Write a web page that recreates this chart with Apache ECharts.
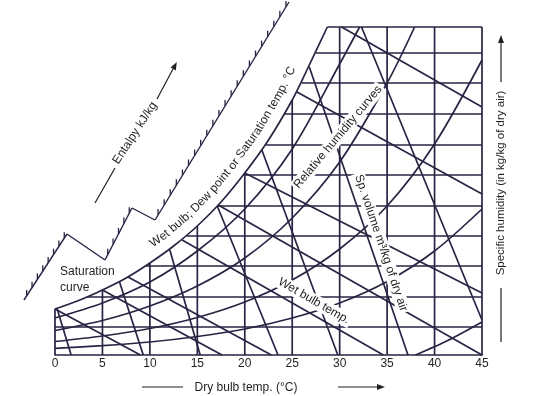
<!DOCTYPE html>
<html><head><meta charset="utf-8">
<script src="https://cdn.jsdelivr.net/npm/echarts@6/dist/echarts.min.js"></script>
<style>html,body{margin:0;padding:0;background:#fff}#c{width:550px;height:396px}</style>
</head><body><div id="c"></div>
<script>
// ---- data (x: dry bulb °C, y: specific humidity, chart units) ----
const dryBulbTicks = [0, 5, 10, 15, 20, 25, 30, 35, 40, 45];
const saturationX = [0, 2.5, 5, 7.5, 10, 12.5, 15, 17.5, 20, 22.5, 25, 26.5, 28.7];
const saturationY = [4.6, 5.45, 6.5, 7.7, 9.2, 10.9, 12.9, 15.3, 18.2, 21.5, 25.5, 28.4, 32.8];
const dryBulbLineX = [0, 5, 10, 15, 20, 25, 30, 35, 40, 45];
const dryBulbLineTop = [4.6, 6.5, 9.2, 12.9, 18.2, 25.5, 32.8, 32.8, 32.8, 32.8];
const humidityY = [2.8, 5.8, 8.9, 11.9, 14.9, 18.0, 21.0, 24.1, 27.2, 30.2, 32.8];
const humidityStartX = [0, 3.4, 9.6, 13.9, 17.2, 19.9, 22.2, 24.2, 26.0, 27.5, 28.7];
const rh80X = [0, 5, 10, 15, 20, 25, 30, 32.1];
const rh80Y = [3.7, 5.2, 7.3, 10.4, 14.6, 20.6, 29.1, 32.8];
const rh53X = [0, 5, 10, 15, 20, 25, 30, 35, 37.9];
const rh53Y = [2.45, 3.45, 4.9, 6.9, 9.7, 13.7, 19.3, 27.2, 32.8];
const rh29X = [0, 5, 10, 15, 20, 25, 30, 35, 40, 45];
const rh29Y = [1.35, 1.9, 2.65, 3.75, 5.3, 7.5, 10.6, 14.9, 21.1, 29.5];
const rh14X = [0, 5, 10, 15, 20, 25, 30, 35, 40, 45];
const rh14Y = [0.66, 0.93, 1.3, 1.85, 2.6, 3.7, 5.2, 7.35, 10.4, 14.6];
const rhLowX = [38, 41.5, 45];
const rhLowY = [0, 1.5, 3.3];
const wetBulbStartX = [0, 5, 7.7, 13.4, 17.2, 20, 25.5, 30.2];
const wetBulbStartY = [4.6, 6.5, 7.8, 11.5, 15.0, 18.2, 26.3, 32.8];
const wetBulbEndX = [9.0, 17.6, 22.8, 34.6, 45, 45, 45, 45];
const wetBulbEndY = [0, 0, 0, 0, 0, 6.2, 16.1, 24.8];
const spVolStartX = [0.2, 6.8, 12.1, 17.1, 21.8, 26.8, 32.3];
const spVolStartY = [4.7, 7.3, 10.5, 14.9, 20.5, 28.8, 32.8];
const spVolEndX = [1.7, 9.3, 15.3, 23.5, 29.8, 37.2, 45];
const spVolEndY = [0, 0, 0, 0, 0, 0, 3.5];
const enthalpyX = [-3.27, 1.26, 5.27, 8.11, 10.54, 24.66];
const enthalpyY = [5.5, 12.1, 9.5, 14.7, 13.5, 35.3];
const enthalpyTickCount = [8, 0, 5, 0, 22];

// ---- styling ----
const C = '#2a2343';
const TXT = '#231f20';
const LW = 1.7;
const FONT = '"Liberation Sans", Arial, sans-serif';

function zip(xs, ys) { return xs.map((x, i) => [x, ys[i]]); }
function ln(points, smooth) {
  return {
    type: 'line', data: points, symbol: 'none', showSymbol: false, clip: false,
    silent: true, animation: false, smooth: smooth || false,
    lineStyle: { color: C, width: LW }, z: 2
  };
}

const series = [];
dryBulbLineX.forEach((x, i) => series.push(ln([[x, 0], [x, dryBulbLineTop[i]]])));
humidityY.forEach((y, i) => series.push(ln([[humidityStartX[i], y], [45, y]])));
series.push(ln(zip(saturationX, saturationY), 0.3));
[[rh80X, rh80Y], [rh53X, rh53Y], [rh29X, rh29Y], [rh14X, rh14Y], [rhLowX, rhLowY]]
  .forEach(([xs, ys]) => series.push(ln(zip(xs, ys), 0.3)));
wetBulbStartX.forEach((x, i) => series.push(ln([[x, wetBulbStartY[i]], [wetBulbEndX[i], wetBulbEndY[i]]])));
spVolStartX.forEach((x, i) => series.push(ln([[x, spVolStartY[i]], [spVolEndX[i], spVolEndY[i]]])));

const enthalpySegments = [];
for (let i = 0; i < enthalpyX.length - 1; i++) {
  enthalpySegments.push([enthalpyX[i], enthalpyY[i], enthalpyX[i + 1], enthalpyY[i + 1], enthalpyTickCount[i]]);
}
series.push({
  type: 'custom', clip: false, silent: true, animation: false, z: 3,
  data: enthalpySegments,
  renderItem: function (params, api) {
    const p0 = api.coord([api.value(0), api.value(1)]);
    const p1 = api.coord([api.value(2), api.value(3)]);
    const n = api.value(4);
    const children = [{ type: 'line', shape: { x1: p0[0], y1: p0[1], x2: p1[0], y2: p1[1] },
      style: { stroke: C, lineWidth: 1.4 } }];
    for (let k = 0; k < n; k++) {
      const t = (k + 0.5) / n;
      const x = p0[0] + (p1[0] - p0[0]) * t, y = p0[1] + (p1[1] - p0[1]) * t;
      children.push({ type: 'line', shape: { x1: x, y1: y, x2: x, y2: y - 6 }, style: { stroke: C, lineWidth: 1.3 } });
    }
    return { type: 'group', children: children };
  }
});

const chart = echarts.init(document.getElementById('c'), null, { renderer: 'canvas' });
chart.setOption({
  animation: false,
  backgroundColor: '#fff',
  grid: { left: 55, right: 68, top: 27, bottom: 41, containLabel: false, outerBoundsMode: 'none' },
  xAxis: {
    type: 'value', min: dryBulbTicks[0], max: dryBulbTicks[dryBulbTicks.length - 1], interval: 5,
    axisLine: { show: true, onZero: false, lineStyle: { color: C, width: LW } },
    axisTick: { show: false }, splitLine: { show: false },
    axisLabel: { fontSize: 12, color: TXT, margin: 3, fontFamily: FONT, showMinLabel: true, showMaxLabel: true }
  },
  yAxis: { type: 'value', min: 0, max: 32.8, show: false, splitLine: { show: false } },
  series: series
});

// ---- labels ----
function txt(x, y, text, rotDeg, extra) {
  const style = Object.assign({ text: text, fill: TXT, font: '12px ' + FONT,
    align: 'center', verticalAlign: 'middle', textAlign: 'center', textVerticalAlign: 'middle' }, extra || {});
  return { type: 'text', x: x, y: y, rotation: (rotDeg || 0) * Math.PI / 180, style: style, z: 100, silent: true };
}
function seg(x1, y1, x2, y2) {
  return { type: 'line', shape: { x1, y1, x2, y2 }, style: { stroke: TXT, lineWidth: 1.2 }, z: 100, silent: true };
}
function head(pts) {
  return { type: 'polygon', shape: { points: pts }, style: { fill: TXT }, z: 100, silent: true };
}

const els = [];
els.push(txt(60, 272, 'Saturation', 0, { align: 'left', textAlign: 'left' }));
els.push(txt(60, 288, 'curve', 0, { align: 'left', textAlign: 'left' }));
els.push(txt(338, 137, 'Relative humidity curves', 50, { backgroundColor: '#fff', padding: [1, 2] }));
els.push(txt(381, 243, 'Sp. volume m³/kg of dry air', -71.4, { backgroundColor: '#fff', padding: [1, 2] }));
els.push(txt(314, 301, 'Wet bulb temp.', -30, { backgroundColor: '#fff', padding: [1, 2] }));
els.push(txt(135, 133, 'Entalpy kJ/kg', 57));
els.push(txt(246, 388, 'Dry bulb temp. (°C)', 0));
els.push(txt(501, 183, 'Specific humidity (in kg/kg of dry air)', 90, { font: '11.5px ' + FONT }));
// arrows
els.push(seg(142, 387, 183, 387));
els.push(seg(338, 387, 379, 387));
els.push(head([[377, 384], [385, 387], [377, 390]]));
els.push(seg(501, 288, 501, 342));
els.push(seg(501, 82, 501, 42));
els.push(head([[498, 43], [501, 35], [504, 43]]));
els.push(seg(95, 203, 115, 168));
els.push(seg(157, 99, 173, 69));
els.push(head([[176.8, 62], [170.6, 67.6], [175.8, 70.4]]));

// text following the saturation curve
(function () {
  const pts = saturationX.map((x, i) => chart.convertToPixel({ gridIndex: 0 }, [x, saturationY[i]]));
  const off = 14;
  const path = pts.map((p, i) => {
    const a = pts[Math.max(0, i - 1)], b = pts[Math.min(pts.length - 1, i + 1)];
    let dx = b[0] - a[0], dy = b[1] - a[1]; const L = Math.hypot(dx, dy); dx /= L; dy /= L;
    return [p[0] + dy * off, p[1] - dx * off];
  });
  const cum = [0];
  for (let i = 1; i < path.length; i++) cum.push(cum[i - 1] + Math.hypot(path[i][0] - path[i - 1][0], path[i][1] - path[i - 1][1]));
  function at(s) {
    s = Math.max(0, Math.min(cum[cum.length - 1], s));
    let i = 1; while (i < cum.length - 1 && cum[i] < s) i++;
    const t = (s - cum[i - 1]) / (cum[i] - cum[i - 1] || 1);
    return [path[i - 1][0] + (path[i][0] - path[i - 1][0]) * t, path[i - 1][1] + (path[i][1] - path[i - 1][1]) * t];
  }
  let s0 = 0;
  while (s0 < cum[cum.length - 1] && at(s0)[0] < 151) s0 += 0.5;
  const label = 'Wet bulb; Dew point or Saturation temp. °C';
  const ctx = document.createElement('canvas').getContext('2d');
  const font = '12px ' + FONT;
  ctx.font = font;
  let acc = 0;
  for (const ch of label) {
    const w = ctx.measureText(ch).width;
    const sc = s0 + acc + w / 2;
    const p = at(sc), pa = at(sc - 7), pb = at(sc + 7);
    const ang = Math.atan2(-(pb[1] - pa[1]), pb[0] - pa[0]);
    els.push({ type: 'text', x: p[0], y: p[1], rotation: ang, z: 100, silent: true,
      style: { text: ch, fill: TXT, font: font, align: 'center', verticalAlign: 'middle', textAlign: 'center', textVerticalAlign: 'middle' } });
    acc += w;
  }
})();

chart.setOption({ graphic: { elements: els } });
</script>
</body></html>
